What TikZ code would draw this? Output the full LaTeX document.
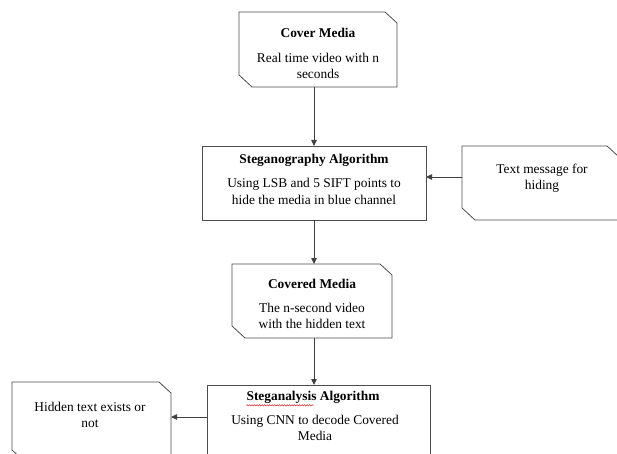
\documentclass[tikz,border=0pt]{standalone}
\usepackage{fontspec}
\setmainfont{Liberation Serif}
\usetikzlibrary{arrows.meta,decorations.pathmorphing}
\newcommand\snipoutline[1]{\draw[boxline] (#1.north west) -- ([xshift=-12pt]#1.north east)
  -- ([yshift=-11pt]#1.north east) -- (#1.south east) -- ([xshift=13pt]#1.south west)
  -- ([yshift=12pt]#1.south west) -- cycle;}
\begin{document}
\begin{tikzpicture}[x=1pt,y=-1pt,
  boxline/.style={draw=black!70,line width=0.8pt},
  box/.style={inner sep=0pt,outer sep=0pt,anchor=north west,rectangle},
  snipbox/.style={box,draw=none},
  plainbox/.style={box,boxline},
  ttl/.style={font=\fontsize{13.4}{16.5}\selectfont\bfseries,inner sep=0pt},
  txt/.style={font=\fontsize{13.4}{16.2}\selectfont,align=center,inner sep=0pt},
  arr/.style={draw=black!75,line width=0.8pt,-{Triangle[length=6pt,width=5.5pt]}}]
\useasboundingbox (0,0) rectangle (617,454);
\clip (0,0) rectangle (617,454);
% boxes
\node[snipbox,minimum width=158pt,minimum height=75pt] (cover) at (239,12) {};
\node[plainbox,minimum width=224pt,minimum height=74pt] (stego) at (202,146) {};
\node[snipbox,minimum width=157pt,minimum height=74pt] (msg) at (462,146) {};
\node[snipbox,minimum width=160pt,minimum height=74pt] (covered) at (232,264) {};
\node[plainbox,minimum width=223pt,minimum height=90pt] (analysis) at (207,385) {};
\node[snipbox,minimum width=159pt,minimum height=80pt] (hidden) at (12,382) {};
\snipoutline{cover}
\snipoutline{msg}
\snipoutline{covered}
\snipoutline{hidden}
% texts
\node[ttl] (t1) at (318,33) {Cover Media};
\node[txt] (b1) at (318,66) {Real time video with n\\seconds};
\node[ttl] (t2) at (314,160) {Steganography Algorithm};
\node[txt] (b2) at (314,191.5) {Using LSB and 5 SIFT points to\\hide the media in blue channel};
\node[txt] (b3) at (542,178.5) {Text message for\\hiding};
\node[ttl] (t4) at (312,284) {Covered Media};
\node[txt] (b4) at (312,316) {The n-second video\\with the hidden text};
\node[ttl] (t5) at (313,397) {Steganalysis Algorithm};
\node[txt] (b5) at (315,428) {Using CNN to decode Covered\\Media};
\node[txt] (b6) at (90,415) {Hidden text exists or\\not};
% spell-check squiggle
\draw[red!80!black,line width=0.4pt,decorate,decoration={snake,amplitude=0.7pt,segment length=2.5pt}]
  ([yshift=-2pt]t5.south west) -- ([xshift=-66pt,yshift=-2pt]t5.south east);
% connectors
\draw[arr] (cover.south -| stego.north) -- (stego.north);
\draw[arr] ([yshift=6pt]msg.west) -- ([yshift=6pt]stego.east);
\draw[arr] (stego.south) -- (stego.south |- covered.north);
\draw[arr] (covered.south -| stego.south) -- (stego.south |- analysis.north);
\draw[arr] (analysis.west |- 0,417) -- (hidden.east |- 0,417);
\end{tikzpicture}
\end{document}
